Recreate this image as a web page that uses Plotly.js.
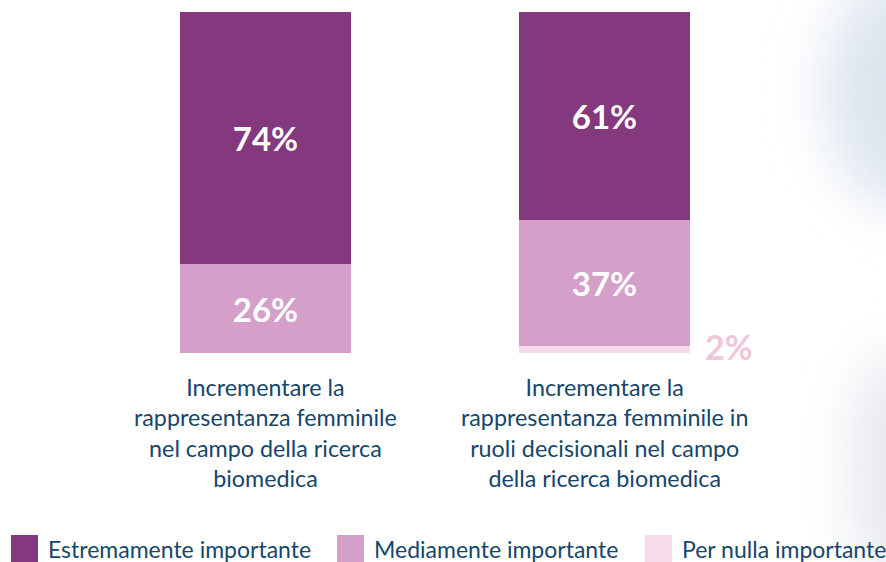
<!DOCTYPE html>
<html>
<head>
<meta charset="utf-8">
<script src="https://cdn.plot.ly/plotly-3.0.1.min.js"></script>
<style>html,body{margin:0;padding:0;background:#fff;}#chart{width:886px;height:562px;}</style>
</head>
<body>
<div id="chart"></div>
<script>
const categories = [
  "Incrementare la<br>rappresentanza femminile<br>nel campo della ricerca<br>biomedica",
  "Incrementare la<br>rappresentanza femminile in<br>ruoli decisionali nel campo<br>della ricerca biomedica"
];
const seriesNames = ["Estremamente importante", "Mediamente importante", "Per nulla importante"];
const estremamente = [74, 61];
const mediamente = [26, 37];
const perNulla = [0, 2];
const colors = ["#84387d", "#d4a0c9", "#f6dce9"];

const xs = [0, 1];
const values = [estremamente, mediamente, perNulla];
const FONT = "Lato, 'Open Sans', sans-serif";
const BLUE = "#16466b";

// stack from bottom: per nulla, mediamente, estremamente
const order = [2, 1, 0];
const traces = order.map(i => ({
  type: "bar",
  x: xs,
  y: values[i],
  name: seriesNames[i],
  marker: {color: colors[i], line: {width: 0}},
  text: values[i].map(d => (i < 2 && d > 0) ? d + "%" : ""),
  textposition: "inside",
  insidetextanchor: "middle",
  textfont: {family: FONT, size: 33, color: "#ffffff", weight: 700},
  width: 0.504,
  hoverinfo: "skip",
  showlegend: false
}));

const annotations = [];
categories.forEach((c, i) => {
  annotations.push({
    x: xs[i], y: 0, xref: "x", yref: "y", yanchor: "top", yshift: -18,
    text: c, showarrow: false,
    font: {family: FONT, size: 23.3, color: BLUE},
    align: "center"
  });
});
xs.forEach((x, i) => {
  if (perNulla[i] > 0) {
    annotations.push({
      x: x, y: perNulla[i] / 2, xref: "x", yref: "y",
      xanchor: "left", yanchor: "middle", xshift: 98, yshift: 3,
      text: perNulla[i] + "%", showarrow: false,
      font: {family: FONT, size: 34, color: "#f1c6da", weight: 700}
    });
  }
});

const plotL = 96, plotW = 678, plotB = 353, plotH = 341;
const px2x = p => (p - plotL) / plotW;
const py2y = p => (plotB - p) / plotH;
const legX = [11, 337, 645];
const shapes = [];
seriesNames.forEach((n, i) => {
  shapes.push({type: "rect", xref: "paper", yref: "paper",
    x0: px2x(legX[i]), x1: px2x(legX[i] + 27), y0: py2y(562), y1: py2y(535),
    fillcolor: colors[i], line: {width: 0}});
  annotations.push({xref: "paper", yref: "paper", x: px2x(legX[i] + 35), y: py2y(549),
    xanchor: "left", yanchor: "middle", text: n, showarrow: false,
    font: {family: FONT, size: 23, color: BLUE}});
});

// faint decorative glow on the right edge of the background
const bgSvg = '<svg xmlns="http://www.w3.org/2000/svg" width="886" height="562">' +
  '<defs><filter id="b" x="-50%" y="-50%" width="200%" height="200%"><feGaussianBlur stdDeviation="28"/></filter></defs>' +
  '<rect width="886" height="562" fill="#ffffff"/>' +
  '<ellipse cx="905" cy="90" rx="80" ry="120" fill="#dde4ef" filter="url(#b)"/>' +
  '<ellipse cx="900" cy="470" rx="50" ry="120" fill="#e6e8ee" filter="url(#b)"/>' +
  '</svg>';
const bgUri = "data:image/svg+xml;charset=utf-8," + encodeURIComponent(bgSvg);

const layout = {
  width: 886, height: 562,
  margin: {l: plotL, r: 886 - plotL - plotW, t: 12, b: 209},
  barmode: "stack",
  paper_bgcolor: "#ffffff",
  plot_bgcolor: "rgba(0,0,0,0)",
  xaxis: {range: [-0.5, 1.5], visible: false, fixedrange: true},
  yaxis: {range: [0, 100], visible: false, fixedrange: true},
  showlegend: false,
  annotations: annotations,
  shapes: shapes,
  images: [{source: bgUri, xref: "paper", yref: "paper",
    x: px2x(0), y: py2y(0), sizex: 886 / plotW, sizey: 562 / plotH,
    xanchor: "left", yanchor: "top", sizing: "stretch", layer: "below"}]
};

Plotly.newPlot("chart", traces, layout, {displayModeBar: false, staticPlot: true});
</script>
</body>
</html>
